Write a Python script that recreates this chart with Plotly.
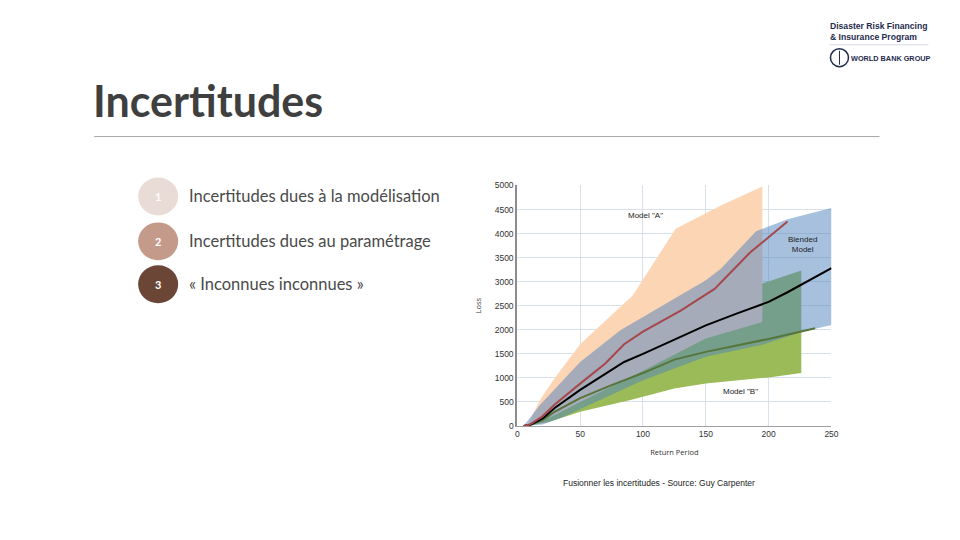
import plotly.graph_objects as go

# return period / loss curves
red_x = [5, 10, 20, 30, 50, 70, 85, 100, 130, 157, 185, 215]
red_y = [0, 30, 200, 450, 880, 1300, 1700, 1960, 2400, 2850, 3600, 4250]

black_x = [5, 10, 20, 30, 50, 70, 85, 100, 125, 150, 175, 200, 215, 250]
black_y = [0, 20, 150, 380, 750, 1080, 1330, 1500, 1790, 2090, 2340, 2580, 2780, 3280]

green_x = [5, 10, 20, 30, 50, 75, 100, 125, 150, 200, 237]
green_y = [0, 20, 120, 300, 580, 850, 1100, 1380, 1540, 1810, 2030]

# bands (lower and upper edges)
a_low_x = [8, 30, 50, 100, 150, 195]
a_low_y = [0, 230, 500, 1150, 1820, 2163]
a_up_x = [8, 18, 30, 50, 92, 126, 162, 195]
a_up_y = [0, 540, 1000, 1700, 2720, 4100, 4585, 4980]

bl_low_x = [5, 20, 35, 50, 100, 150, 195, 226, 250]
bl_low_y = [0, 30, 170, 350, 950, 1440, 1690, 1956, 2100]
bl_up_x = [5, 18, 50, 82, 100, 150, 162, 190, 215, 250]
bl_up_y = [0, 436, 1330, 1990, 2270, 3030, 3270, 4050, 4300, 4530]

b_low_x = [8, 25, 50, 90, 125, 150, 200, 226]
b_low_y = [0, 80, 297, 540, 780, 885, 1010, 1100]
b_up_x = [8, 30, 50, 100, 150, 195, 226]
b_up_y = [0, 300, 700, 1400, 2000, 2960, 3230]

x_ticks = [0, 50, 100, 150, 200, 250]
y_ticks = [0, 500, 1000, 1500, 2000, 2500, 3000, 3500, 4000, 4500, 5000]

items = ["Incertitudes dues à la modélisation",
         "Incertitudes dues au paramétrage",
         "« Inconnues inconnues »"]
item_colors = ["#e9dcd7", "#c49a8b", "#6b4636"]

# page keeps its 8px body margin; small extra correction measured from the render
W, H, OFF = 944, 524, 8


def px(x):
    x = (x - 2) / 0.99
    return (x - OFF) / W


def py(y):
    y = (y - 4.3) / 0.983
    return 1 - (y - OFF) / H


def band(lx, ly, ux, uy, color):
    return go.Scatter(x=lx + ux[::-1], y=ly + uy[::-1], fill="toself",
                      fillcolor=color, line=dict(width=0), mode="lines",
                      hoverinfo="skip", showlegend=False)


fig = go.Figure()
fig.add_trace(band(b_low_x, b_low_y, b_up_x, b_up_y, "#9bbb59"))
fig.add_trace(band(a_low_x, a_low_y, a_up_x, a_up_y, "#fcd5b5"))
fig.add_trace(band(bl_low_x, bl_low_y, bl_up_x, bl_up_y, "rgba(79,129,189,0.5)"))

fig.add_trace(go.Scatter(x=green_x, y=green_y, mode="lines",
                         line=dict(color="#56753a", width=2), showlegend=False))
fig.add_trace(go.Scatter(x=black_x, y=black_y, mode="lines",
                         line=dict(color="#000000", width=2), showlegend=False))
fig.add_trace(go.Scatter(x=red_x, y=red_y, mode="lines",
                         line=dict(color="#a6474b", width=2), showlegend=False))

tick_font = dict(size=8.5, color="#333", family="Liberation Sans")
fig.update_xaxes(range=[0, 250], tickvals=x_ticks, domain=[px(517), px(831)],
                 showgrid=True, gridcolor="#d8e1eb", gridwidth=1, zeroline=False,
                 showline=True, linecolor="#a0a0a0", linewidth=1, tickfont=tick_font,
                 title=dict(text="Return Period", font=dict(size=7.5, color="#333"), standoff=11))
fig.update_yaxes(range=[0, 5000], tickvals=y_ticks, domain=[py(426), py(185)],
                 showgrid=True, gridcolor="#d8e1eb", gridwidth=1, zeroline=False,
                 showline=True, linecolor="#8c8c8c", linewidth=2, tickfont=tick_font,
                 title=dict(text="Loss", font=dict(size=7.5, color="#333"), standoff=12))

ann = [
    dict(x=102, y=4380, text='Model "A"'),
    dict(x=227, y=3780, text="Blended<br>Model"),
    dict(x=178, y=710, text='Model "B"'),
]
for a in ann:
    fig.add_annotation(x=a["x"], y=a["y"], text=a["text"], showarrow=False,
                       xanchor="center", yanchor="middle",
                       font=dict(size=8, color="#222", family="Liberation Sans"))

# slide decoration
fig.add_annotation(x=px(91), y=py(100), xref="paper", yref="paper",
                   text="<b>Incertitudes</b>", showarrow=False,
                   xanchor="left", yanchor="middle",
                   font=dict(size=43, color="#3f3f3f", family="Lato"))
fig.add_shape(type="line", xref="paper", yref="paper", x0=px(94), x1=px(879),
              y0=py(136), y1=py(136), line=dict(color="#a6a6a6", width=1))

for i, (txt, col) in enumerate(zip(items, item_colors)):
    cy = [196, 241, 284][i]
    fig.add_shape(type="circle", xref="paper", yref="paper",
                  x0=px(138), x1=px(178), y0=py(cy + 19), y1=py(cy - 19),
                  fillcolor=col, line=dict(width=0))
    fig.add_annotation(x=px(158), y=py(cy), xref="paper", yref="paper",
                       text=f"<b>{i + 1}</b>", showarrow=False,
                       xanchor="center", yanchor="middle",
                       font=dict(size=11, color="#ffffff", family="Lato"))
    fig.add_annotation(x=px(187), y=py(cy), xref="paper", yref="paper",
                       text=txt, showarrow=False, xanchor="left", yanchor="middle",
                       font=dict(size=16.5, color="#4a4a4a", family="Lato"))

fig.add_annotation(x=px(659), y=py(483), xref="paper", yref="paper",
                   text="Fusionner les incertitudes - Source: Guy Carpenter", showarrow=False,
                   xanchor="center", yanchor="middle",
                   font=dict(size=8.5, color="#222", family="Liberation Sans"))

# logo
fig.add_annotation(x=px(828), y=py(31), xref="paper", yref="paper",
                   text="<b>Disaster Risk Financing<br>&amp; Insurance Program</b>",
                   showarrow=False, xanchor="left", yanchor="middle", align="left",
                   font=dict(size=8.6, color="#1f2b4d", family="Liberation Sans"))
fig.add_shape(type="line", xref="paper", yref="paper", x0=px(829), x1=px(928),
              y0=py(44), y1=py(44), line=dict(color="#d6dbe3", width=1))
fig.add_shape(type="circle", xref="paper", yref="paper", x0=px(830), x1=px(848),
              y0=py(66), y1=py(48), line=dict(color="#1f2b4d", width=1.5))
fig.add_shape(type="line", xref="paper", yref="paper", x0=px(839), x1=px(839),
              y0=py(64), y1=py(50), line=dict(color="#1f2b4d", width=1))
fig.add_annotation(x=px(849), y=py(58), xref="paper", yref="paper",
                   text="<b>WORLD BANK GROUP</b>", showarrow=False,
                   xanchor="left", yanchor="middle",
                   font=dict(size=7.3, color="#1f2b4d", family="Liberation Sans"))

fig.update_layout(width=W, height=H, margin=dict(l=0, r=0, t=0, b=0),
                  paper_bgcolor="#ffffff", plot_bgcolor="#ffffff", showlegend=False)

fig.write_html("out.html")
